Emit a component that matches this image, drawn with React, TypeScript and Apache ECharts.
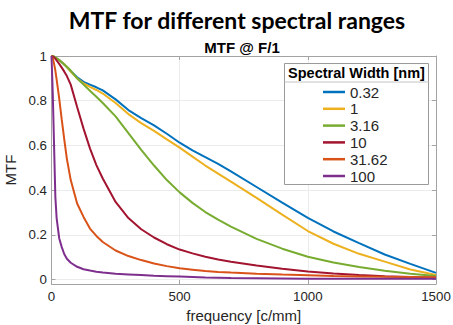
import React, { useEffect, useRef } from "react";
import * as echarts from "echarts";

// frequency samples [c/mm]
const freq = [0, 5, 10, 15, 20, 30, 40, 50, 60, 75, 100, 125, 150, 175, 200, 250, 300, 350, 400, 450, 500, 550, 600, 650, 700, 800, 900, 1000, 1100, 1200, 1300, 1400, 1500];

const seriesNames = ["0.32", "1", "3.16", "10", "31.62", "100"];

const mtf032 = [1, 0.999, 0.997, 0.994, 0.99, 0.982, 0.972, 0.962, 0.95, 0.932, 0.905, 0.884, 0.872, 0.86, 0.846, 0.806, 0.758, 0.722, 0.69, 0.652, 0.612, 0.578, 0.548, 0.517, 0.484, 0.414, 0.344, 0.276, 0.215, 0.163, 0.112, 0.07, 0.03];
const mtf1 = [1, 0.999, 0.997, 0.994, 0.99, 0.982, 0.972, 0.962, 0.95, 0.93, 0.9, 0.877, 0.862, 0.848, 0.832, 0.79, 0.74, 0.7, 0.665, 0.627, 0.59, 0.55, 0.51, 0.474, 0.438, 0.365, 0.29, 0.217, 0.16, 0.115, 0.08, 0.045, 0.02];
const mtf316 = [1, 0.999, 0.997, 0.994, 0.99, 0.982, 0.972, 0.962, 0.952, 0.935, 0.9, 0.872, 0.845, 0.818, 0.79, 0.73, 0.655, 0.58, 0.51, 0.445, 0.39, 0.343, 0.302, 0.268, 0.237, 0.182, 0.138, 0.102, 0.076, 0.056, 0.039, 0.026, 0.016];
const mtf10 = [1, 0.998, 0.994, 0.988, 0.98, 0.965, 0.948, 0.93, 0.91, 0.872, 0.772, 0.675, 0.587, 0.512, 0.452, 0.347, 0.275, 0.225, 0.188, 0.158, 0.134, 0.117, 0.102, 0.09, 0.08, 0.063, 0.048, 0.036, 0.027, 0.02, 0.015, 0.011, 0.008];
const mtf3162 = [1, 0.99, 0.965, 0.935, 0.895, 0.81, 0.715, 0.625, 0.54, 0.445, 0.34, 0.28, 0.228, 0.195, 0.168, 0.13, 0.105, 0.087, 0.072, 0.06, 0.05, 0.044, 0.038, 0.034, 0.031, 0.026, 0.022, 0.019, 0.016, 0.014, 0.012, 0.011, 0.01];
const mtf100 = [1, 0.83, 0.6, 0.37, 0.275, 0.185, 0.145, 0.113, 0.093, 0.075, 0.057, 0.046, 0.04, 0.035, 0.031, 0.026, 0.023, 0.02, 0.017, 0.015, 0.013, 0.011, 0.009, 0.008, 0.007, 0.006, 0.005, 0.004, 0.004, 0.003, 0.003, 0.003, 0.003];

const colors = ["#0072BD", "#EDB120", "#77AC30", "#A2142F", "#D95319", "#7E2F8E"];
const yTicks = [0, 0.2, 0.4, 0.6, 0.8, 1];

export default function App() {
  const ref = useRef<HTMLDivElement>(null);
  useEffect(() => {
    const chart = echarts.init(ref.current!, null, { renderer: "svg" });
    const font = "'Liberation Sans', Arial, sans-serif";
    const axisColor = "#a3a3a3";
    const gridColor = "#ebebeb";
    const textColor = "#262626";
    const values = [mtf032, mtf1, mtf316, mtf10, mtf3162, mtf100];

    chart.setOption({
      animation: false,
      grid: { left: 51.5, right: 17, top: 56, bottom: 41, containLabel: false, outerBoundsMode: "none" },
      xAxis: [
        {
          type: "value", min: 0, max: 1500, interval: 500,
          name: "frequency [c/mm]", nameLocation: "middle", nameGap: 15,
          nameTextStyle: { fontSize: 15, fontFamily: font, color: textColor },
          axisLine: { onZero: false, lineStyle: { color: axisColor } },
          axisTick: { inside: true, length: 4, lineStyle: { color: axisColor } },
          axisLabel: { margin: 6, fontSize: 13.3, fontFamily: font, color: textColor, formatter: (v: number) => String(v) },
          splitLine: { show: true, lineStyle: { color: gridColor } },
        },
        {
          type: "value", position: "top", min: 0, max: 1500, interval: 500,
          axisLine: { show: true, onZero: false, lineStyle: { color: axisColor } },
          axisTick: { show: true, inside: true, length: 4, lineStyle: { color: axisColor } },
          axisLabel: { show: false }, splitLine: { show: false },
        },
      ],
      yAxis: [
        {
          type: "value", min: -0.02, max: 1,
          name: "MTF", nameLocation: "middle", nameGap: 24,
          nameTextStyle: { fontSize: 15, fontFamily: font, color: textColor },
          axisLine: { show: true, onZero: false, lineStyle: { color: axisColor } },
          axisTick: { show: true, inside: true, length: 4, customValues: yTicks, lineStyle: { color: axisColor } },
          axisLabel: { margin: 4.5, fontSize: 13.3, fontFamily: font, color: textColor, customValues: yTicks },
          splitLine: { show: true, lineStyle: { color: gridColor } },
        },
        {
          type: "value", position: "right", min: -0.02, max: 1,
          axisLine: { show: true, onZero: false, lineStyle: { color: axisColor } },
          axisTick: { show: true, inside: true, length: 4, customValues: yTicks, lineStyle: { color: axisColor } },
          axisLabel: { show: false }, splitLine: { show: false },
        },
      ],
      legend: {
        data: seriesNames,
        orient: "vertical",
        left: 323,
        top: 84.5,
        padding: 0,
        itemWidth: 22,
        itemHeight: 2.5,
        itemGap: 1.8,
        icon: "rect",
        selectedMode: false,
        z: 10,
        textStyle: { fontSize: 15, lineHeight: 15, fontFamily: font, color: textColor },
      },
      graphic: [
        {
          type: "rect", z: 5,
          shape: { x: 284.5, y: 63.5, width: 144, height: 121 },
          style: { fill: "#ffffff", stroke: "#9a9a9a", lineWidth: 1 },
        },
        {
          type: "line", z: 6,
          shape: { x1: 284.5, y1: 82, x2: 428.5, y2: 82 },
          style: { stroke: "#c4c4c4", lineWidth: 1 },
        },
        {
          type: "text", z: 6, x: 356.5, y: 73,
          style: { text: "Spectral Width [nm]", fontSize: 14.5, fontWeight: "bold", fontFamily: font, fill: "#000", align: "center", verticalAlign: "middle" },
        },
        {
          type: "text", z: 6, x: 237, y: 20,
          style: { text: "MTF for different spectral ranges", fontSize: 23, fontWeight: "bold", fontFamily: "Lato, 'Open Sans', sans-serif", fill: "#000", align: "center", verticalAlign: "middle" },
        },
        {
          type: "text", z: 6, x: 242, y: 47,
          style: { text: "MTF @ F/1", fontSize: 15, fontWeight: "bold", fontFamily: font, fill: "#000", align: "center", verticalAlign: "middle" },
        },
      ],
      series: seriesNames.map((name, k) => ({
        name,
        type: "line",
        xAxisIndex: 0,
        yAxisIndex: 0,
        data: freq.map((f, i) => [f, values[k][i]]),
        showSymbol: false,
        symbol: "none",
        smooth: false,
        color: colors[k],
        lineStyle: { width: 2, color: colors[k] },
      })),
    });
    return () => chart.dispose();
  }, []);
  return <div ref={ref} style={{ position: "absolute", left: 0, top: 0, width: 453, height: 325 }} />;
}
